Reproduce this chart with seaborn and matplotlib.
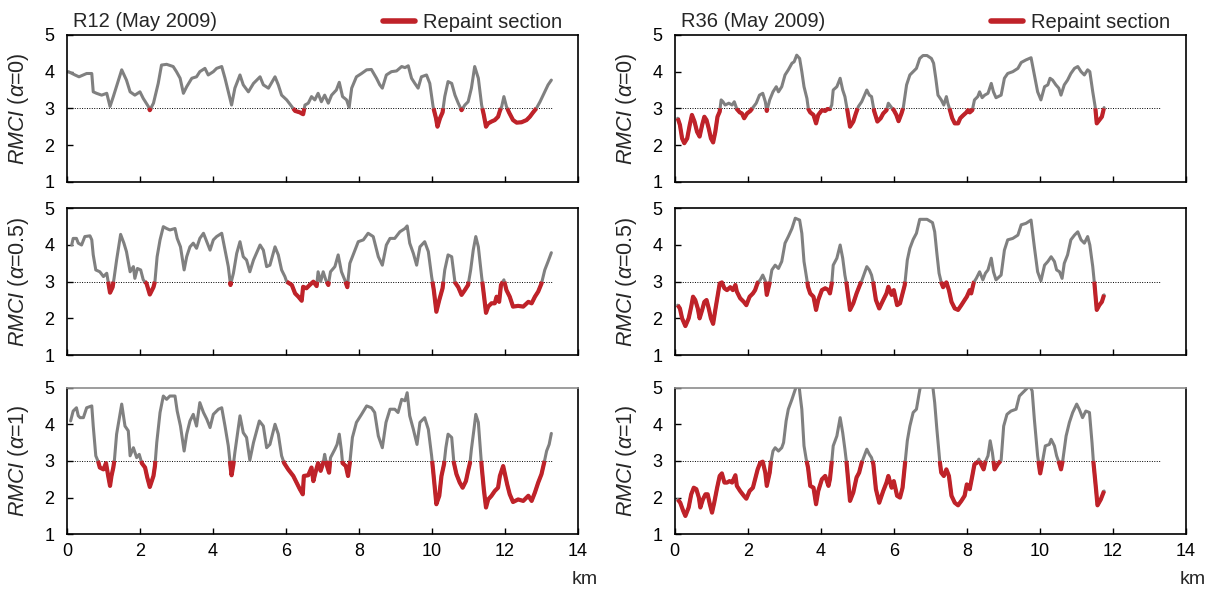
import numpy as np
import pandas as pd
import matplotlib
matplotlib.use('Agg')
import matplotlib.pyplot as plt
import seaborn as sns
from matplotlib.lines import Line2D

# (km, RMCI) pairs
r12_a0 = [(0.04,4.00),(0.22,3.91),(0.33,3.86),(0.45,3.91),(0.54,3.95),(0.68,3.95),(0.72,3.45),(0.81,3.41),(0.95,3.36),(1.09,3.41),
          (1.18,3.05),(1.27,3.32),(1.50,4.05),(1.63,3.77),(1.73,3.45),(1.86,3.36),(2.00,3.45),(2.09,3.27),(2.23,3.05),(2.27,2.95),
          (2.37,3.14),(2.50,3.68),(2.59,4.18),(2.73,4.20),(2.91,4.14),(3.00,4.00),(3.10,3.82),(3.19,3.41),(3.28,3.59),(3.42,3.82),
          (3.55,3.86),(3.64,4.00),(3.78,4.09),(3.87,3.91),(4.01,4.00),(4.10,4.09),(4.24,4.14),(4.33,3.82),(4.42,3.45),(4.51,3.09),
          (4.60,3.55),(4.74,3.91),(4.83,3.64),(4.97,3.45),(5.11,3.68),(5.29,3.86),(5.38,3.64),(5.52,3.55),(5.70,3.86),(5.79,3.64),
          (5.88,3.36),(6.02,3.23),(6.16,3.05),(6.25,2.93),(6.38,2.89),(6.43,2.86),(6.47,2.84),(6.52,3.09),(6.61,3.14),(6.70,3.32),
          (6.79,3.23),(6.88,3.41),(6.97,3.18),(7.06,3.36),(7.16,3.14),(7.25,3.36),(7.38,3.50),(7.46,3.71),(7.55,3.32),(7.66,3.23),
          (7.73,3.02),(7.80,3.55),(7.93,3.86),(8.07,3.95),(8.21,4.05),(8.34,4.06),(8.48,3.82),(8.57,3.64),(8.64,3.55),(8.75,3.91),
          (8.89,4.00),(9.03,4.02),(9.17,4.14),(9.26,4.11),(9.35,4.16),(9.44,3.82),(9.53,3.68),(9.62,3.55),(9.71,3.86),(9.85,3.91),
          (9.94,3.68),(10.03,3.05),(10.11,2.73),(10.15,2.50),(10.22,2.73),(10.29,2.89),(10.35,3.32),(10.44,3.73),(10.54,3.68),(10.63,3.36),
          (10.72,3.14),(10.81,2.95),(10.90,3.09),(10.99,3.18),(11.08,3.55),(11.17,4.14),(11.27,3.82),(11.36,3.09),(11.42,2.82),(11.48,2.50),
          (11.54,2.59),(11.63,2.64),(11.72,2.68),(11.81,2.77),(11.86,2.93),(11.91,3.05),(11.97,3.32),(12.04,3.05),(12.11,2.89),(12.22,2.68),
          (12.32,2.61),(12.45,2.62),(12.59,2.68),(12.68,2.77),(12.77,2.89),(12.86,3.00),(12.96,3.18),(13.09,3.45),(13.18,3.64),(13.27,3.77)]

r12_a05 = [(0.13,4.00),(0.17,4.18),(0.26,4.18),(0.31,4.05),(0.40,4.00),(0.49,4.23),(0.63,4.25),(0.68,4.14),(0.72,3.73),(0.79,3.32),
           (0.90,3.27),(1.00,3.14),(1.09,3.23),(1.13,3.00),(1.18,2.70),(1.25,2.85),(1.29,3.09),(1.36,3.59),(1.47,4.29),(1.56,4.05),
           (1.63,3.82),(1.73,3.27),(1.82,3.41),(1.86,3.09),(1.93,3.36),(2.02,3.32),(2.09,3.05),(2.18,2.95),(2.27,2.65),(2.37,2.85),
           (2.41,3.00),(2.47,3.68),(2.55,4.14),(2.64,4.50),(2.73,4.45),(2.82,4.41),(2.96,4.45),(3.02,4.18),(3.11,3.95),(3.21,3.32),
           (3.28,3.68),(3.37,3.95),(3.46,4.05),(3.55,3.91),(3.64,4.18),(3.74,4.32),(3.83,4.09),(3.92,3.86),(4.01,4.14),(4.10,4.23),
           (4.24,4.32),(4.33,3.86),(4.42,3.41),(4.48,2.91),(4.56,3.23),(4.65,3.77),(4.74,4.09),(4.83,3.68),(4.92,3.59),(5.01,3.27),
           (5.11,3.59),(5.29,4.00),(5.38,3.86),(5.47,3.41),(5.56,3.45),(5.70,3.95),(5.79,3.73),(5.88,3.32),(5.97,3.14),(6.02,3.00),
           (6.16,2.91),(6.25,2.68),(6.34,2.59),(6.43,2.48),(6.47,2.86),(6.56,2.82),(6.65,2.91),(6.75,3.00),(6.84,2.88),(6.88,3.27),
           (6.95,3.00),(7.02,3.27),(7.09,3.05),(7.16,2.91),(7.22,3.27),(7.34,3.41),(7.43,3.73),(7.52,3.27),(7.61,3.05),(7.68,2.85),
           (7.75,3.50),(7.89,3.86),(7.98,4.09),(8.12,4.14),(8.25,4.32),(8.39,4.23),(8.53,3.68),(8.64,3.45),(8.75,4.00),(8.85,4.18),
           (8.98,4.18),(9.12,4.36),(9.26,4.45),(9.32,4.52),(9.39,4.05),(9.49,3.77),(9.58,3.45),(9.67,3.95),(9.80,4.09),(9.90,3.82),
           (9.99,3.14),(10.05,2.77),(10.12,2.18),(10.20,2.50),(10.29,2.82),(10.35,3.32),(10.44,3.73),(10.54,3.68),(10.63,2.98),(10.72,2.85),
           (10.81,2.64),(10.90,2.77),(10.99,2.91),(11.06,3.32),(11.13,3.86),(11.20,4.23),(11.27,3.95),(11.36,3.14),(11.40,2.82),(11.48,2.15),
           (11.54,2.32),(11.63,2.41),(11.72,2.41),(11.77,2.59),(11.84,2.45),(11.89,2.91),(11.97,3.05),(12.04,2.77),(12.13,2.59),(12.22,2.32),
           (12.36,2.34),(12.50,2.32),(12.64,2.45),(12.73,2.41),(12.82,2.59),(12.91,2.73),(13.00,2.95),(13.09,3.32),(13.18,3.55),(13.27,3.79)]

r12_a1 = [(0.10,4.09),(0.17,4.36),(0.26,4.45),(0.31,4.23),(0.36,4.18),(0.45,4.18),(0.54,4.45),(0.68,4.50),(0.72,3.95),(0.79,3.14),
          (0.86,2.97),(0.90,2.82),(1.00,2.77),(1.07,2.94),(1.13,2.59),(1.18,2.32),(1.22,2.59),(1.27,2.82),(1.30,3.02),(1.36,3.73),
          (1.50,4.55),(1.59,3.95),(1.68,3.82),(1.73,3.14),(1.82,3.36),(1.91,3.09),(1.98,3.18),(2.05,2.94),(2.14,2.82),(2.20,2.55),
          (2.27,2.29),(2.37,2.59),(2.41,2.86),(2.46,3.50),(2.55,4.32),(2.64,4.77),(2.73,4.68),(2.82,4.77),(2.96,4.77),(3.02,4.36),
          (3.11,3.95),(3.21,3.27),(3.28,3.73),(3.37,4.09),(3.46,4.27),(3.55,3.95),(3.64,4.59),(3.74,4.32),(3.83,4.14),(3.92,3.91),
          (4.01,4.27),(4.15,4.41),(4.24,4.45),(4.33,3.95),(4.42,3.41),(4.47,2.94),(4.51,2.61),(4.56,2.91),(4.60,3.23),(4.67,3.73),
          (4.74,4.23),(4.83,3.77),(4.92,3.64),(5.01,3.02),(5.11,3.50),(5.27,4.09),(5.38,3.95),(5.47,3.36),(5.56,3.45),(5.70,4.00),
          (5.79,3.73),(5.88,3.14),(5.95,2.94),(6.06,2.77),(6.20,2.59),(6.29,2.41),(6.38,2.23),(6.46,2.09),(6.49,2.59),(6.61,2.61),
          (6.70,2.82),(6.75,2.45),(6.82,2.73),(6.88,2.94),(6.95,2.73),(7.02,2.95),(7.06,3.18),(7.11,2.91),(7.18,2.68),(7.22,3.09),
          (7.34,3.32),(7.40,3.45),(7.46,3.73),(7.52,3.27),(7.55,2.94),(7.64,2.86),(7.70,2.59),(7.75,2.95),(7.82,3.64),(7.93,4.05),
          (8.07,4.27),(8.21,4.50),(8.34,4.45),(8.43,4.32),(8.53,3.68),(8.64,3.36),(8.74,4.05),(8.85,4.41),(8.98,4.41),(9.07,4.32),
          (9.17,4.68),(9.26,4.64),(9.32,4.86),(9.39,4.23),(9.49,3.86),(9.59,3.45),(9.67,4.05),(9.80,4.18),(9.90,3.86),(9.99,3.14),
          (10.03,2.75),(10.12,1.82),(10.20,2.05),(10.26,2.59),(10.33,2.91),(10.38,3.36),(10.44,3.73),(10.54,3.64),(10.60,2.95),(10.67,2.64),
          (10.76,2.41),(10.84,2.27),(10.93,2.45),(10.99,2.73),(11.04,2.94),(11.08,3.32),(11.15,3.86),(11.20,4.27),(11.27,4.05),(11.36,2.86),
          (11.42,2.23),(11.48,1.73),(11.54,1.95),(11.63,2.05),(11.72,2.18),(11.81,2.27),(11.86,2.59),(11.95,2.86),(11.99,2.68),(12.06,2.36),
          (12.13,2.09),(12.22,1.88),(12.36,1.95),(12.50,1.91),(12.64,2.05),(12.73,1.91),(12.82,2.14),(12.91,2.41),(13.00,2.64),(13.07,2.94),
          (13.14,3.27),(13.21,3.45),(13.27,3.75)]

r36_a0 = [(0.08,2.73),(0.14,2.55),(0.20,2.18),(0.26,2.05),(0.34,2.18),(0.41,2.55),(0.47,2.82),(0.54,2.64),(0.61,2.36),(0.68,2.23),
          (0.75,2.55),(0.81,2.77),(0.87,2.68),(0.93,2.45),(0.99,2.18),(1.05,2.07),(1.11,2.36),(1.17,2.77),(1.23,2.91),(1.27,3.23),
          (1.32,3.18),(1.38,3.09),(1.48,3.14),(1.57,3.09),(1.63,3.18),(1.70,2.98),(1.78,2.89),(1.84,2.86),(1.90,2.73),(1.98,2.86),
          (2.07,2.93),(2.14,3.02),(2.23,3.14),(2.32,3.36),(2.41,3.41),(2.48,3.18),(2.52,2.93),(2.60,3.23),(2.69,3.45),(2.78,3.59),
          (2.84,3.45),(2.93,3.59),(3.02,3.91),(3.11,4.05),(3.21,4.23),(3.27,4.27),(3.34,4.45),(3.42,4.36),(3.48,4.00),(3.54,3.59),
          (3.62,3.27),(3.66,2.98),(3.71,2.89),(3.80,2.82),(3.87,2.59),(3.93,2.82),(4.03,2.95),(4.12,2.93),(4.18,2.98),(4.25,2.98),
          (4.30,3.09),(4.34,3.50),(4.44,3.59),(4.53,3.82),(4.60,3.50),(4.66,3.32),(4.73,2.93),(4.80,2.50),(4.89,2.64),(4.96,2.86),
          (5.03,3.05),(5.12,3.18),(5.26,3.50),(5.33,3.36),(5.39,3.32),(5.46,2.93),(5.55,2.64),(5.64,2.73),(5.71,2.86),(5.80,2.95),
          (5.85,3.14),(5.94,3.02),(6.00,2.95),(6.07,2.82),(6.13,2.65),(6.21,2.86),(6.26,3.02),(6.35,3.64),(6.44,3.91),(6.53,4.00),
          (6.62,4.09),(6.71,4.36),(6.80,4.44),(6.91,4.44),(7.03,4.36),(7.09,4.23),(7.15,3.82),(7.21,3.36),(7.30,3.23),(7.37,3.09),
          (7.44,3.32),(7.48,3.14),(7.53,2.98),(7.60,2.73),(7.67,2.59),(7.76,2.59),(7.82,2.73),(7.89,2.80),(7.99,2.89),(8.03,2.95),
          (8.08,2.89),(8.15,2.95),(8.21,3.23),(8.30,3.32),(8.35,3.45),(8.42,3.29),(8.49,3.36),(8.58,3.41),(8.67,3.68),(8.73,3.45),
          (8.80,3.29),(8.94,3.36),(9.03,3.82),(9.12,3.95),(9.26,4.00),(9.40,4.09),(9.49,4.25),(9.62,4.32),(9.76,4.38),(9.85,3.91),
          (9.94,3.45),(10.03,3.23),(10.13,3.59),(10.22,3.64),(10.28,3.82),(10.35,3.77),(10.44,3.64),(10.52,3.55),(10.58,3.36),(10.67,3.64),
          (10.76,3.77),(10.85,3.95),(10.95,4.09),(11.04,4.14),(11.13,4.00),(11.22,3.91),(11.31,4.05),(11.37,4.00),(11.45,3.45),(11.52,3.02),
          (11.56,2.59),(11.63,2.68),(11.70,2.77),(11.76,3.02)]

r36_a05 = [(0.08,2.36),(0.14,2.27),(0.20,2.00),(0.29,1.79),(0.38,2.00),(0.45,2.32),(0.50,2.59),(0.56,2.50),(0.63,2.27),(0.68,2.00),
           (0.75,2.23),(0.81,2.45),(0.87,2.50),(0.93,2.27),(0.99,2.00),(1.05,1.85),(1.11,2.23),(1.17,2.59),(1.23,2.95),(1.29,2.98),
           (1.36,2.82),(1.43,2.77),(1.52,2.85),(1.59,2.77),(1.66,2.91),(1.70,2.73),(1.79,2.55),(1.89,2.45),(1.96,2.36),(2.05,2.59),
           (2.14,2.68),(2.20,2.77),(2.27,2.97),(2.34,3.05),(2.41,3.18),(2.48,3.02),(2.52,2.64),(2.60,2.97),(2.66,3.32),(2.75,3.45),
           (2.84,3.36),(2.93,3.55),(3.02,4.05),(3.11,4.23),(3.21,4.45),(3.30,4.73),(3.42,4.68),(3.48,4.32),(3.54,3.55),(3.60,3.18),
           (3.65,2.86),(3.71,2.68),(3.80,2.59),(3.87,2.23),(3.93,2.50),(4.03,2.77),(4.12,2.82),(4.21,2.77),(4.25,2.68),(4.30,2.95),
           (4.34,3.45),(4.44,3.64),(4.53,4.00),(4.60,3.64),(4.66,3.18),(4.71,2.91),(4.80,2.23),(4.89,2.41),(4.98,2.68),(5.07,2.91),
           (5.12,3.02),(5.26,3.41),(5.33,3.32),(5.39,3.18),(5.44,2.95),(5.51,2.50),(5.60,2.27),(5.71,2.50),(5.80,2.68),(5.85,2.86),
           (5.94,2.64),(6.00,2.77),(6.09,2.36),(6.17,2.41),(6.24,2.68),(6.30,2.91),(6.37,3.59),(6.44,3.91),(6.53,4.15),(6.62,4.32),
           (6.71,4.70),(6.91,4.70),(7.06,4.61),(7.12,4.36),(7.18,3.77),(7.24,3.23),(7.30,2.98),(7.35,2.85),(7.44,2.98),(7.51,2.77),
           (7.58,2.45),(7.67,2.27),(7.76,2.23),(7.85,2.36),(7.94,2.50),(8.00,2.59),(8.08,2.77),(8.12,2.68),(8.19,2.98),(8.26,3.09),
           (8.35,3.27),(8.44,3.05),(8.51,3.23),(8.58,3.32),(8.67,3.64),(8.73,3.27),(8.80,3.05),(8.94,3.18),(9.03,3.86),(9.12,4.14),
           (9.26,4.18),(9.40,4.27),(9.49,4.55),(9.62,4.59),(9.76,4.68),(9.85,3.95),(9.94,3.27),(10.03,3.02),(10.13,3.45),(10.22,3.55),
           (10.31,3.68),(10.40,3.55),(10.46,3.32),(10.54,3.27),(10.61,3.09),(10.67,3.50),(10.76,3.73),(10.85,4.14),(10.95,4.27),(11.04,4.36),
           (11.13,4.14),(11.22,4.05),(11.31,4.23),(11.37,4.00),(11.45,3.41),(11.50,2.91),(11.56,2.23),(11.63,2.36),(11.70,2.45),(11.76,2.64)]

r36_a1 = [(0.08,1.95),(0.15,1.86),(0.23,1.64),(0.29,1.50),(0.38,1.73),(0.45,2.09),(0.52,2.27),(0.59,2.23),(0.66,2.00),(0.70,1.73),
          (0.77,1.95),(0.84,2.09),(0.90,2.09),(0.96,1.82),(1.02,1.59),(1.08,1.86),(1.16,2.27),(1.23,2.59),(1.29,2.66),(1.36,2.41),
          (1.43,2.41),(1.50,2.45),(1.57,2.41),(1.66,2.61),(1.70,2.32),(1.79,2.18),(1.89,2.05),(1.96,1.97),(2.05,2.18),(2.14,2.27),
          (2.20,2.50),(2.27,2.77),(2.34,2.95),(2.41,2.98),(2.48,2.68),(2.52,2.32),(2.60,2.68),(2.63,2.95),(2.69,3.27),(2.75,3.36),
          (2.84,3.27),(2.93,3.36),(2.98,3.50),(3.05,4.09),(3.11,4.41),(3.21,4.68),(3.30,4.95),(3.39,5.20),(3.43,4.82),(3.48,4.41),
          (3.54,3.41),(3.60,3.05),(3.65,2.82),(3.71,2.32),(3.80,2.27),(3.87,1.82),(3.93,2.18),(4.03,2.50),(4.12,2.59),(4.21,2.32),
          (4.25,2.50),(4.30,2.98),(4.34,3.41),(4.44,3.68),(4.53,4.18),(4.60,3.77),(4.66,3.32),(4.71,2.91),(4.80,1.91),(4.89,2.14),
          (4.98,2.55),(5.05,2.68),(5.12,2.95),(5.26,3.32),(5.33,3.18),(5.39,3.09),(5.44,2.91),(5.51,2.23),(5.60,1.86),(5.71,2.18),
          (5.80,2.41),(5.85,2.59),(5.94,2.27),(6.00,2.45),(6.09,2.05),(6.17,2.00),(6.24,2.27),(6.30,2.86),(6.37,3.55),(6.44,3.95),
          (6.53,4.32),(6.62,4.41),(6.69,4.82),(6.75,5.15),(6.89,5.20),(7.06,5.10),(7.12,4.59),(7.18,3.86),(7.26,2.98),(7.30,2.68),
          (7.37,2.59),(7.44,2.77),(7.51,2.59),(7.58,2.05),(7.67,1.86),(7.76,1.79),(7.85,1.91),(7.94,2.05),(8.00,2.36),(8.08,2.23),
          (8.15,2.59),(8.21,2.91),(8.28,2.95),(8.33,3.05),(8.39,2.91),(8.46,2.77),(8.51,2.98),(8.58,3.14),(8.64,3.55),(8.70,3.23),
          (8.76,2.77),(8.85,2.91),(8.94,3.02),(9.01,3.95),(9.10,4.27),(9.21,4.36),(9.35,4.41),(9.44,4.77),(9.58,4.91),(9.72,5.05),
          (9.79,4.91),(9.85,4.14),(9.94,3.14),(10.01,2.66),(10.08,3.02),(10.15,3.41),(10.26,3.45),(10.31,3.59),(10.40,3.41),(10.46,3.14),
          (10.54,2.91),(10.58,2.77),(10.63,3.02),(10.72,3.68),(10.81,4.05),(10.90,4.32),(11.01,4.55),(11.08,4.41),(11.17,4.18),(11.26,4.36),
          (11.36,4.32),(11.43,3.50),(11.47,2.95),(11.54,2.23),(11.58,1.79),(11.67,1.95),(11.76,2.18)]

route_titles = ['R12 (May 2009)', 'R36 (May 2009)']
alpha_labels = ['0', '0.5', '1']
threshold = 3.0
threshold_end = 13.3

GRAY = '#808080'
RED = '#bf2229'

sns.set_theme(style='ticks')
plt.rcParams['font.family'] = ['Liberation Sans', 'DejaVu Sans']
plt.rcParams['mathtext.fontset'] = 'custom'
plt.rcParams['mathtext.it'] = 'Liberation Sans:italic'
plt.rcParams['mathtext.rm'] = 'Liberation Sans'


def below_segments(d, thr):
    # split the curve into pieces that lie under thr (crossings added)
    pts = []
    xs, ys = d['km'].values, d['rmci'].values
    for i in range(len(xs)):
        if i > 0 and (ys[i-1] - thr) * (ys[i] - thr) < 0:
            t = (thr - ys[i-1]) / (ys[i] - ys[i-1])
            pts.append((xs[i-1] + t * (xs[i] - xs[i-1]), thr))
        pts.append((xs[i], ys[i]))
    rows, seg, prev_in = [], 0, False
    for x, y in pts:
        inside = y <= thr
        if inside:
            if not prev_in:
                seg += 1
            rows.append((seg, x, y))
        prev_in = inside
    return pd.DataFrame(rows, columns=['seg', 'km', 'rmci'])


fig = plt.figure(figsize=(12.13, 5.92), dpi=100)
lefts = [0.0552, 0.5563]
bottoms = [0.6931, 0.4003, 0.0975]
w, h = 0.4213, 0.2478

series = [[r12_a0, r12_a05, r12_a1], [r36_a0, r36_a05, r36_a1]]

for c in range(2):
    for r in range(3):
        ax = fig.add_axes([lefts[c], bottoms[r], w, h])
        d = pd.DataFrame(series[c][r], columns=['km', 'rmci'])
        ax.hlines(threshold, 0, threshold_end, colors='black', lw=0.7,
                  linestyles=(0, (1, 1.5)), zorder=1)
        sns.lineplot(data=d, x='km', y='rmci', color=GRAY, lw=2.2, sort=False,
                     estimator=None, ax=ax, zorder=2)
        red = below_segments(d, threshold)
        sns.lineplot(data=red, x='km', y='rmci', units='seg', estimator=None,
                     color=RED, lw=3.0, sort=False, ax=ax, legend=False, zorder=3,
                     solid_capstyle='butt')
        ax.set_xlim(0, 14)
        ax.set_ylim(1, 5)
        ax.set_xticks(range(0, 15, 2))
        ax.set_yticks([1, 2, 3, 4, 5])
        ax.tick_params(direction='in', length=4, width=1, labelsize=13, colors='black')
        ax.tick_params(axis='y', pad=9)
        ax.tick_params(axis='x', pad=6, labelbottom=(r == 2))
        for s in ax.spines.values():
            s.set_linewidth(1.2)
            s.set_color('black')
        if r == 2:
            ax.spines['top'].set_color('#8c8c8c')
            ax.text(1.014, -0.31, 'km', transform=ax.transAxes, fontsize=14,
                    ha='center', va='center')
        ax.set_xlabel('')
        ax.set_ylabel(r'$RMCI$ ($\alpha$=' + alpha_labels[r] + ')', fontsize=15.5)
        ax.yaxis.set_label_coords(-0.07, 0.5)
        if r == 0:
            ax.text(0.012, 1.025, route_titles[c], transform=ax.transAxes,
                    fontsize=14.5, ha='left', va='bottom')
            ax.legend(handles=[Line2D([], [], color=RED, lw=4)], labels=['Repaint section'],
                      loc='lower right', bbox_to_anchor=(0.975, 1.0), frameon=False,
                      fontsize=14.5, handlelength=1.6, handletextpad=0.4,
                      borderaxespad=0, borderpad=0.15)

fig.savefig('out.png', dpi=100)
